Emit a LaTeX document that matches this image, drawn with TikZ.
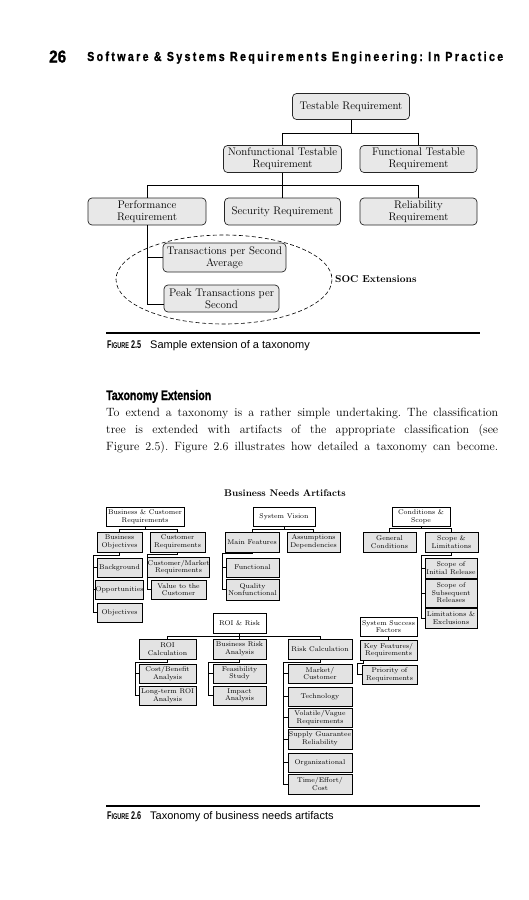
\documentclass[tikz,border=0pt]{standalone}
\usepackage{fontspec}
\setsansfont{Liberation Sans}
\newfontfamily\hdrfont[LetterSpace=22,FakeBold=1.2]{Liberation Sans}
\newfontfamily\hvyfont[FakeBold=1.2]{Liberation Sans}
\usetikzlibrary{shadows}
\begin{document}
\frenchspacing
\begin{tikzpicture}[x=1pt,y=-1pt,
  rb/.style={draw=black!85, line width=0.7pt, rounded corners=4pt, fill=gray!18, align=center, inner sep=1pt, font=\fontsize{11}{12.3}\selectfont},
  sb/.style={draw=black, line width=0.9pt, fill=gray!22, align=center, inner sep=0.3pt, font=\fontsize{6.9}{7.6}\selectfont, drop shadow={shadow xshift=0.7pt, shadow yshift=-0.7pt, fill=black!55, opacity=1}},
  wb/.style={sb, fill=white},
  ln/.style={draw=black, line width=0.6pt},
  sl/.style={draw=black, line width=0.7pt},
  txt/.style={inner sep=0, anchor=base west},
  par/.style={txt, font=\fontsize{12}{17}\selectfont},
  captxt/.style={txt, font=\sffamily\fontsize{11}{12}\selectfont},
  rule/.style={draw=black, line width=1.5pt}]
\fill[white] (0,0) rectangle (528,900);
\useasboundingbox (0,0) rectangle (528,900);

% header
\node[txt] (pg) at (49,62.5) {\resizebox{17pt}{12pt}{\hvyfont\bfseries 26}};
\node[txt] (hd) at (87,61) {\resizebox{416pt}{9.5pt}{\hdrfont\bfseries Software \& Systems Requirements Engineering: In Practice}};

% ---------- Figure 2.5 ----------
\node[rb, minimum width=117, minimum height=26] (tr) at (351,106.5) {Testable Requirement};
\node[rb, minimum width=118, minimum height=27] (nf) at (282.5,159) {Nonfunctional Testable\\Requirement};
\node[rb, minimum width=117, minimum height=27] (ft) at (418.5,159) {Functional Testable\\Requirement};
\node[rb, minimum width=118, minimum height=27] (pr) at (147,211.5) {Performance\\Requirement};
\node[rb, minimum width=116, minimum height=27] (sr) at (282.5,211.5) {Security Requirement};
\node[rb, minimum width=117, minimum height=27] (rl) at (418.5,211.5) {Reliability\\Requirement};
\node[rb, minimum width=123, minimum height=29] (tp) at (224.5,257.5) {Transactions per Second\\Average};
\node[rb, minimum width=115, minimum height=27] (pt) at (221.5,298.5) {Peak Transactions per\\Second};

\coordinate (j1) at (351,133);
\draw[ln] (tr.south) -- (j1) -| (nf.north);
\draw[ln] (j1) -| (ft.north);
\coordinate (j2) at (282.5,185);
\draw[ln] (nf.south) -- (sr.north);
\draw[ln] (j2) -| (pr.north);
\draw[ln] (j2) -| (rl.north);
\coordinate (j3) at (147,304);
\draw[ln] (pr.south) |- (tp.west);
\draw[ln] (pr.south) -- (j3) -- (j3 -| pt.west);

\draw[line width=0.6pt, dash pattern=on 4pt off 2.5pt] (224,279.5) ellipse [x radius=108, y radius=44.5];
\node[inner sep=0, anchor=west, font=\bfseries\fontsize{10}{12}\selectfont] (soc) at (335,279.5) {SOC Extensions};

\coordinate (r1a) at (106,333);
\coordinate (r1b) at (480,333);
\draw[rule] (r1a) -- (r1b);
\node[txt] (c1a) at (107,348) {\resizebox{34pt}{7.8pt}{\sffamily\bfseries F{\fontsize{7.5}{7.5}\selectfont IGURE} 2.5}};
\node[captxt] (c1b) at (150,348) {Sample extension of a taxonomy};

% ---------- section text ----------
\node[txt] (h2) at (106,400) {\resizebox{105pt}{10pt}{\hvyfont\bfseries Taxonomy Extension}};
\node[par] (p1) at (106,416) {\makebox[392pt][s]{To extend a taxonomy is a rather simple undertaking. The classification}};
\node[par] (p2) at (106,433) {\makebox[392pt][s]{tree is extended with artifacts of the appropriate classification (see}};
\node[par] (p3) at (106,450) {\makebox[392pt][s]{Figure 2.5). Figure 2.6 illustrates how detailed a taxonomy can become.}};

% ---------- Figure 2.6 ----------
\node[inner sep=0, font=\bfseries\fontsize{9.7}{10}\selectfont] (bna) at (285,493) {Business Needs Artifacts};

\node[wb, minimum width=78, minimum height=19] (bcr) at (145,516.5) {Business \& Customer\\Requirements};
\node[wb, minimum width=62, minimum height=19] (sv) at (284,516.5) {System Vision};
\node[wb, minimum width=58, minimum height=19] (cs) at (421,516.5) {Conditions \&\\Scope};

\node[sb, minimum width=45, minimum height=20] (bo) at (119.5,542) {Business\\Objectives};
\node[sb, minimum width=55, minimum height=20] (cr) at (177.5,542) {Customer\\Requirements};
\node[sb, minimum width=54, minimum height=20] (mf) at (252,542) {Main Features};
\node[sb, minimum width=53, minimum height=20] (ad) at (313.5,542) {Assumptions\\Dependencies};
\node[sb, minimum width=53, minimum height=20] (gc) at (389.5,542) {General\\Conditions};
\node[sb, minimum width=53, minimum height=20] (sl) at (451.5,542) {Scope \&\\Limitations};

\node[sb, minimum width=45, minimum height=19] (bg) at (119.5,567.5) {Background};
\node[sb, minimum width=45, minimum height=19] (op) at (119.5,589.5) {Opportunities};
\node[sb, minimum width=45, minimum height=19] (ob) at (119.5,612.5) {Objectives};
\node[sb, minimum width=55, minimum height=20] (cm) at (178.5,567) {Customer/Market\\Requirements};
\node[sb, minimum width=55, minimum height=19] (vc) at (178.5,589.5) {Value to the\\Customer};
\node[sb, minimum width=53, minimum height=19] (fu) at (252.5,567.5) {Functional};
\node[sb, minimum width=53, minimum height=21] (qn) at (252.5,589.5) {Quality\\Nonfunctional};
\node[sb, minimum width=52, minimum height=20] (si) at (451,568) {Scope of\\Initial Release};
\node[sb, minimum width=52, minimum height=28] (ss) at (451,593) {Scope of\\Subsequent\\Releases};
\node[sb, minimum width=52, minimum height=20] (le) at (451,618) {Limitations \&\\Exclusions};

\node[wb, minimum width=53, minimum height=20] (rr) at (239.5,623) {ROI \& Risk};
\node[wb, minimum width=57, minimum height=19] (ssf) at (388.5,626.5) {System Success\\Factors};
\node[sb, minimum width=57, minimum height=20] (kf) at (388.5,650) {Key Features/\\Requirements};
\node[sb, minimum width=55, minimum height=19] (pq) at (389.5,674.5) {Priority of\\Requirements};

\node[sb, minimum width=57, minimum height=20] (rc) at (167.5,649) {ROI\\Calculation};
\node[sb, minimum width=53, minimum height=20] (ba) at (239.5,649) {Business Risk\\Analysis};
\node[sb, minimum width=64, minimum height=20] (rk) at (320,649) {Risk Calculation};
\node[sb, minimum width=57, minimum height=19] (cb) at (167.5,673.5) {Cost/Benefit\\Analysis};
\node[sb, minimum width=57, minimum height=19] (lt) at (167.5,695.5) {Long-term ROI\\Analysis};
\node[sb, minimum width=53, minimum height=19] (fs) at (239.5,673.5) {Feasibility\\Study};
\node[sb, minimum width=53, minimum height=19] (ia) at (239.5,695.5) {Impact\\Analysis};
\node[sb, minimum width=64, minimum height=19] (mc) at (320,673.5) {Market/\\Customer};
\node[sb, minimum width=64, minimum height=19] (te) at (320,696.5) {Technology};
\node[sb, minimum width=64, minimum height=19] (vv) at (320,717.5) {Volatile/Vague\\Requirements};
\node[sb, minimum width=64, minimum height=20] (sg) at (320,739) {Supply Guarantee\\Reliability};
\node[sb, minimum width=64, minimum height=19] (og) at (320,762.5) {Organizational};
\node[sb, minimum width=64, minimum height=20] (tc) at (320,784) {Time/Effort/\\Cost};

% connectors
\coordinate (k1) at (145,529);
\draw[sl] (bcr.south) -- (k1) -| (bo.north);
\draw[sl] (k1) -| (cr.north);
\coordinate (k2) at (284,529);
\draw[sl] (sv.south) -- (k2) -| (mf.north);
\draw[sl] (k2) -| (ad.north);
\coordinate (k3) at (421,528.5);
\draw[sl] (cs.south) -- (k3) -| (gc.north);
\draw[sl] (k3) -| (sl.north);

\coordinate (g1) at (93,555);
\draw[sl] (bo.south) |- (g1) |- (bg.west);
\draw[sl] (g1) |- (op.west);
\draw[sl] (g1) |- (ob.west);
\coordinate (g2) at (147,554);
\draw[sl] (cr.south) |- (g2) |- (cm.west);
\draw[sl] (g2) |- (vc.west);
\coordinate (g3) at (222.5,553);
\draw[sl] (mf.south) |- (g3) |- (fu.west);
\draw[sl] (g3) |- (qn.west);
\coordinate (g4) at (421.5,555);
\draw[sl] (sl.south) |- (g4) |- (si.west);
\draw[sl] (g4) |- (ss.west);
\draw[sl] (g4) |- (le.west);

\coordinate (k4) at (239.5,636);
\draw[sl] (rr.south) -- (ba.north);
\draw[sl] (k4) -| (rc.north);
\draw[sl] (k4) -| (rk.north);
\coordinate (g5) at (135,662);
\draw[sl] (rc.south) |- (g5) |- (cb.west);
\draw[sl] (g5) |- (lt.west);
\coordinate (g6) at (208,662);
\draw[sl] (ba.south) |- (g6) |- (fs.west);
\draw[sl] (g6) |- (ia.west);
\coordinate (g7) at (283,662);
\draw[sl] (rk.south) |- (g7) |- (mc.west);
\draw[sl] (g7) |- (te.west);
\draw[sl] (g7) |- (vv.west);
\draw[sl] (g7) |- (sg.west);
\draw[sl] (g7) |- (og.west);
\draw[sl] (g7) |- (tc.west);

\draw[sl] (ssf.south) -- (kf.north);
\coordinate (g8) at (357,663);
\draw[sl] ([xshift=4pt]kf.south west) |- (g8) |- (pq.west);

\coordinate (r2a) at (106,806);
\coordinate (r2b) at (480,806);
\draw[rule] (r2a) -- (r2b);
\node[txt] (c2a) at (107,819) {\resizebox{34pt}{7.8pt}{\sffamily\bfseries F{\fontsize{7.5}{7.5}\selectfont IGURE} 2.6}};
\node[captxt] (c2b) at (150,819) {Taxonomy of business needs artifacts};
\end{tikzpicture}
\end{document}
